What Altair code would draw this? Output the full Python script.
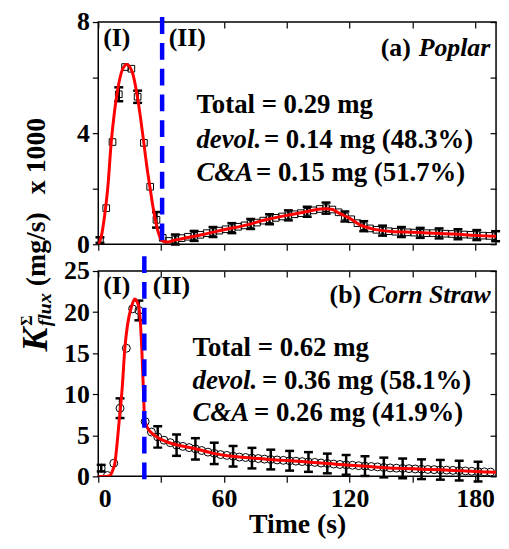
import altair as alt
import pandas as pd

FONT = "Liberation Serif"

# ---------------- (a) Poplar ----------------
pop_t = [0.8, 3.8, 6.8, 9.8, 12.8, 15.8, 18.8, 21.8, 24.8, 27.8, 30.8, 33.8, 36.8, 39.8,
         42.8, 45.8, 48.8, 51.8, 54.8, 57.8, 60.8, 63.8, 66.8, 69.8, 72.8, 75.8, 78.8,
         81.8, 84.8, 87.8, 90.8, 93.8, 96.8, 99.8, 102.8, 105.8, 108.8, 111.8, 114.8,
         117.8, 120.8, 123.8, 126.8, 129.8, 132.8, 135.8, 138.8, 141.8, 144.8, 147.8,
         150.8, 153.8, 156.8, 159.8, 162.8, 165.8, 168.8, 171.8, 174.8, 177.8, 180.8,
         183.8, 186.8, 189.8]
pop_y = [0.15, 1.30, 3.68, 5.40, 6.38, 6.32, 5.31, 3.65, 2.07, 0.88, 0.23,
         0.12, 0.17, 0.22, 0.27, 0.30, 0.34, 0.40, 0.44, 0.49, 0.54, 0.58, 0.63, 0.68,
         0.73, 0.78, 0.85, 0.90, 0.95, 1.00, 1.04, 1.08, 1.12, 1.17, 1.22, 1.27, 1.30,
         1.25, 1.15, 1.00, 0.90, 0.76, 0.65, 0.57, 0.52, 0.49, 0.47, 0.45, 0.44, 0.43,
         0.42, 0.41, 0.40, 0.40, 0.39, 0.38, 0.37, 0.36, 0.35, 0.34, 0.33, 0.31, 0.30, 0.29]
pop_err = [0.10, 0, 0, 0.25, 0, 0, 0.22, 0, 0, 0.28, 0, 0,
           0.18, 0, 0, 0.18, 0, 0, 0.18, 0, 0, 0.18, 0, 0, 0.18, 0, 0, 0.18, 0, 0,
           0.18, 0, 0, 0.18, 0, 0, 0.20, 0, 0, 0.18, 0, 0, 0.18, 0, 0, 0.18, 0, 0,
           0.18, 0, 0, 0.18, 0, 0, 0.18, 0, 0, 0.18, 0, 0, 0.18, 0, 0, 0.18]
pop_fit_t = [0, 1.5, 3.1, 4.5, 6.2, 7.8, 9.3, 11.6, 13.6, 16.3, 18.6, 20.2, 21.7, 23.2,
             24.8, 26.0, 27.1, 28.6, 30.2, 33.0, 36.0, 40, 50, 60, 70, 80, 90, 100, 106,
             109, 112, 115, 120, 125, 130, 140, 150, 160, 170, 180, 190]
pop_fit_y = [0, 0.3, 1.07, 2.0, 3.68, 4.8, 5.58, 6.3, 6.47, 6.18, 5.35, 4.55, 3.68, 2.8,
             2.0, 1.4, 0.94, 0.45, 0.14, 0.08, 0.14, 0.2, 0.35, 0.52, 0.68, 0.88, 1.04,
             1.18, 1.27, 1.28, 1.25, 1.12, 0.94, 0.7, 0.57, 0.46, 0.43, 0.4, 0.37, 0.32, 0.29]
pop_split = [30.5]

# ---------------- (b) Corn Straw ----------------
corn_t = [1.4, 4.4, 7.4, 10.4, 13.4, 16.4, 19.4, 22.4, 25.4, 28.4, 31.4, 34.4, 37.4,
          40.4, 43.4, 46.4, 49.4, 52.4, 55.4, 58.4, 61.4, 64.4, 67.4, 70.4, 73.4, 76.4,
          79.4, 82.4, 85.4, 88.4, 91.4, 94.4, 97.4, 100.4, 103.4, 106.4, 109.4, 112.4,
          115.4, 118.4, 121.4, 124.4, 127.4, 130.4, 133.4, 136.4, 139.4, 142.4, 145.4,
          148.4, 151.4, 154.4, 157.4, 160.4, 163.4, 166.4, 169.4, 172.4, 175.4, 178.4,
          181.4, 184.4, 187.4]
corn_y = [1.0, 0.1, 1.6, 8.3, 15.6, 20.4, 20.2, 6.67,
          5.4, 4.8, 4.4, 4.1, 3.8, 3.65, 3.5, 3.35, 3.15, 2.95, 2.8, 2.65, 2.55, 2.45,
          2.35, 2.3, 2.22, 2.17, 2.1, 2.05, 2.0, 1.95, 1.9, 1.85, 1.8, 1.75, 1.7, 1.63,
          1.57, 1.5, 1.45, 1.4, 1.35, 1.3, 1.25, 1.2, 1.15, 1.08, 1.03, 1.0, 0.97, 0.94,
          0.9, 0.87, 0.84, 0.82, 0.8, 0.76, 0.73, 0.7, 0.66, 0.62, 0.58, 0.55, 0.52]
corn_err = [0.4, 0, 0, 1.2, 0, 0, 1.2, 0, 0, 1.3, 0, 0, 1.3, 0, 0, 1.3, 0, 0, 1.3, 0, 0,
            1.25, 0, 0, 1.25, 0, 0, 1.2, 0, 0, 1.2, 0, 0, 1.2, 0, 0, 1.2, 0, 0, 1.2, 0, 0,
            1.2, 0, 0, 1.2, 0, 0, 1.2, 0, 0, 1.2, 0, 0, 1.2, 0, 0, 1.2, 0, 0, 1.2, 0, 0]
corn_fit_t = [0, 4, 5.5, 7, 8, 9, 10, 10.6, 11.5, 12.7, 14, 15.8, 17.4, 18.5, 19.7, 20.8,
              21.7, 22.1, 23, 25, 28, 30, 35, 40, 46, 55, 61, 70, 77, 85, 92, 100, 108,
              115, 124, 132, 139, 147, 155, 163, 170, 178, 186, 190]
corn_fit_y = [0, 0, 0.1, 0.8, 1.7, 4.0, 6.8, 8.3, 11, 15.6, 18.5, 20.6, 21.6, 21.3, 20.0,
              15.5, 9.5, 7.0, 6.2, 5.4, 4.8, 4.5, 4.0, 3.7, 3.4, 2.8, 2.55, 2.3, 2.17, 2.0,
              1.9, 1.75, 1.6, 1.45, 1.3, 1.15, 1.03, 0.95, 0.87, 0.8, 0.72, 0.62, 0.52, 0.5]
corn_split = [22.0]

x_ticks = [0, 30, 60, 90, 120, 150, 180]
pop_y_ticks = [0, 2, 4, 6, 8]
corn_y_ticks = [0, 5, 10, 15, 20, 25]

W = 401
H_TOP = 224
H_BOT = 207
ONE = pd.DataFrame({"k": [0]})


def txt(s, x, y, size=27, style="normal", align="left", baseline="alphabetic", angle=0):
    return alt.Chart(ONE).mark_text(
        text=s, font=FONT, fontSize=size, fontWeight="bold", fontStyle=style,
        align=align, baseline=baseline, angle=angle, color="black"
    ).encode(x=alt.value(x), y=alt.value(y))


def panel(t, y, err, fit_t, fit_y, split, ymax, yticks, ylab_expr, height, shape,
          msize, vtop, vbot, bottom_panel, texts):
    pts = pd.DataFrame({"t": t, "y": y})
    eb = pd.DataFrame({"t": t, "lo": [a - b for a, b in zip(y, err)],
                       "hi": [a + b for a, b in zip(y, err)], "e": err})
    eb = eb[eb["e"] > 0]
    fit = pd.DataFrame({"t": fit_t, "y": fit_y})
    vl = pd.DataFrame({"t": split})

    xs = alt.Scale(domain=[0, 190], nice=False, zero=False)
    ys = alt.Scale(domain=[0, ymax], nice=False, zero=False)

    if bottom_panel:
        xa = alt.Axis(orient="bottom", values=x_ticks, tickSize=6, labelPadding=3,
                      labelExpr="datum.value % 60 == 0 ? datum.label : ''",
                      title="Time (s)", titlePadding=0)
    else:
        xa = alt.Axis(orient="bottom", values=x_ticks, tickSize=6, labels=False, title=None)
    ya = alt.Axis(orient="left", values=yticks, tickSize=6, labelPadding=3,
                  labelExpr=ylab_expr, title=None)
    xm = alt.Axis(orient="top", values=x_ticks, tickSize=6, offset=-6, labels=False, title=None)
    ym = alt.Axis(orient="right", values=yticks, tickSize=6, offset=-6, labels=False, title=None)

    ax_main = alt.Chart(fit).mark_line(opacity=0).encode(
        x=alt.X("t:Q", scale=xs, axis=xa), y=alt.Y("y:Q", scale=ys, axis=ya))
    ax_mirror = alt.Chart(fit).mark_line(opacity=0).encode(
        x=alt.X("t:Q", scale=xs, axis=xm), y=alt.Y("y:Q", scale=ys, axis=ym))

    X = alt.X("t:Q", axis=None)
    points = alt.Chart(pts).mark_point(
        shape=shape, filled=False, color="black", size=msize, strokeWidth=1, opacity=1, clip=True
    ).encode(x=X, y=alt.Y("y:Q", axis=None))
    stems = alt.Chart(eb).mark_rule(color="black", strokeWidth=2.5).encode(
        x=X, y=alt.Y("lo:Q", axis=None), y2="hi:Q")
    cap_lo = alt.Chart(eb).mark_tick(orient="horizontal", color="black", size=9,
                                     thickness=2.5, opacity=1).encode(x=X, y=alt.Y("lo:Q", axis=None))
    cap_hi = alt.Chart(eb).mark_tick(orient="horizontal", color="black", size=9,
                                     thickness=2.5, opacity=1).encode(x=X, y=alt.Y("hi:Q", axis=None))
    line = alt.Chart(fit).mark_line(color="#ff0000", strokeWidth=3, interpolate="monotone",
                                    clip=True).encode(x=X, y=alt.Y("y:Q", axis=None))
    vline = alt.Chart(vl).mark_rule(color="#0000ff", strokeWidth=4.5, strokeDash=[17, 9]).encode(
        x=X, y=alt.value(vtop), y2=alt.value(vbot))

    return alt.layer(ax_main, ax_mirror, points, stems, cap_lo, cap_hi, line, vline,
                     *texts).resolve_axis(x="independent", y="independent").properties(
        width=W, height=height)


top_texts = [
    txt("(I)", 5, 24, 26),
    txt("(II)", 71, 24, 26),
    txt("(a)", 315, 34, 26, align="right"),
    txt("Poplar", 323, 34, 26, style="italic"),
    txt("Total = 0.29 mg", 99, 92),
    txt("devol.", 99, 127, style="italic"),
    txt("= 0.14 mg (48.3%)", 167, 127),
    txt("C&A", 99, 160, style="italic"),
    txt("= 0.15 mg (51.7%)", 159, 160),
    # shared y-axis title, built from pieces (rotated)
    txt("K", -63, 320, 36, style="italic", align="center", baseline="middle", angle=270),
    txt("\u03a3", -72, 301, 16, align="center", baseline="middle", angle=270),
    txt("flux", -54, 290, 20, style="italic", align="center", baseline="middle", angle=270),
    txt("(mg/s)", -62, 229, 28, align="center", baseline="middle", angle=270),
    txt("x 1000", -62, 135, 28, align="center", baseline="middle", angle=270),
]

bot_texts = [
    txt("(I)", 5, 23, 26),
    txt("(II)", 55, 23, 26),
    txt("(b)", 265, 32, 26, align="right"),
    txt("Corn Straw", 272, 32, 26, style="italic"),
    txt("Total = 0.62 mg", 95, 86),
    txt("devol.", 95, 119, style="italic"),
    txt("= 0.36 mg (58.1%)", 165, 119),
    txt("C&A", 95, 151, style="italic"),
    txt("= 0.26 mg (41.9%)", 157, 151),
]

top = panel(pop_t, pop_y, pop_err, pop_fit_t, pop_fit_y, pop_split, 8, pop_y_ticks,
            "datum.value % 4 == 0 ? datum.label : ''", H_TOP, "square", 45, -5, H_TOP + 3,
            False, top_texts)
bottom = panel(corn_t, corn_y, corn_err, corn_fit_t, corn_fit_y, corn_split, 25,
               corn_y_ticks, "datum.label", H_BOT, "circle", 64, -15, H_BOT + 10, True, bot_texts)

chart = alt.vconcat(top, bottom, spacing=27, bounds="flush").properties(
    padding={"left": 9, "top": -2, "right": 0, "bottom": 0}
).configure_view(
    stroke="black", strokeWidth=1.5
).configure_axis(
    labelFont=FONT, labelFontSize=26, labelFontWeight="bold", labelColor="black",
    tickColor="black", tickWidth=1.2, domain=False, grid=False, minExtent=0,
    titleFont=FONT, titleFontSize=28, titleFontWeight="bold", titleColor="black"
)

chart.save("out.html", embed_options={"renderer": "svg", "actions": False})
